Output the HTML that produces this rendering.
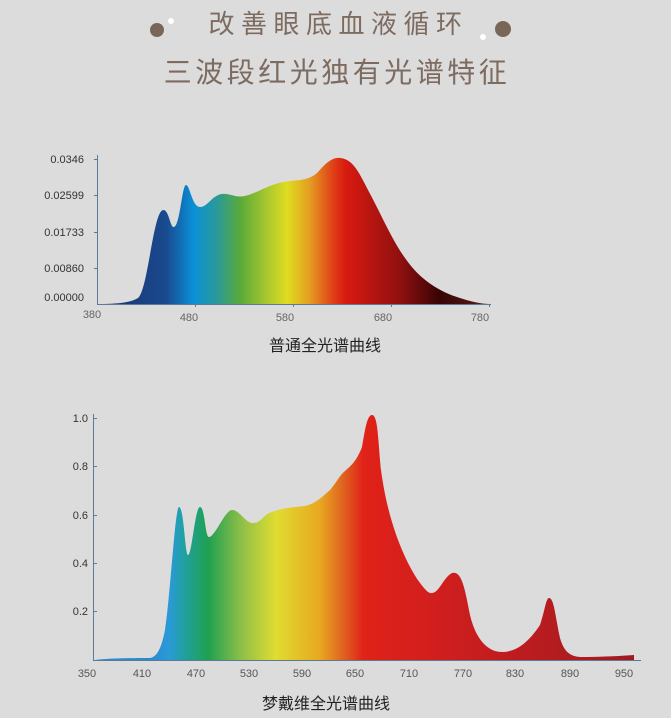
<!DOCTYPE html>
<html><head><meta charset="utf-8"><style>
html,body{margin:0;padding:0;background:#dcdcdc;}
body{width:671px;height:718px;overflow:hidden;position:relative;font-family:"Liberation Sans","Noto Sans CJK SC",sans-serif;}
.t{position:absolute;left:0;width:671px;text-align:center;color:#7d6b60;}
</style></head><body>
<div class="t" style="top:4px;font-size:26px;letter-spacing:6.5px;text-indent:6px;">改善眼底血液循环</div>
<div class="t" style="top:51px;font-size:28px;letter-spacing:3.5px;text-indent:3px;">三波段红光独有光谱特征</div>
<svg width="671" height="718" style="position:absolute;left:0;top:0" font-family="Liberation Sans, sans-serif">
<defs>
<linearGradient id="g1" gradientUnits="userSpaceOnUse" x1="100" x2="490" y1="0" y2="0">
<stop offset="0" stop-color="#1a3070"/>
<stop offset="0.17" stop-color="#1a4a8e"/>
<stop offset="0.24" stop-color="#0a90d8"/>
<stop offset="0.3" stop-color="#2a9a98"/>
<stop offset="0.36" stop-color="#5aaa38"/>
<stop offset="0.42" stop-color="#a0c430"/>
<stop offset="0.48" stop-color="#e0dc20"/>
<stop offset="0.54" stop-color="#e49a20"/>
<stop offset="0.59" stop-color="#e04a18"/>
<stop offset="0.63" stop-color="#d81a10"/>
<stop offset="0.77" stop-color="#901010"/>
<stop offset="0.87" stop-color="#380404"/>
<stop offset="1" stop-color="#5a2020"/>
</linearGradient>
<linearGradient id="g2" gradientUnits="userSpaceOnUse" x1="150" x2="635" y1="0" y2="0">
<stop offset="0" stop-color="#2a8ad0"/>
<stop offset="0.04" stop-color="#2a9ad8"/>
<stop offset="0.07" stop-color="#20a0a0"/>
<stop offset="0.12" stop-color="#20a050"/>
<stop offset="0.19" stop-color="#90c048"/>
<stop offset="0.26" stop-color="#e0dc30"/>
<stop offset="0.35" stop-color="#e8a820"/>
<stop offset="0.40" stop-color="#e06020"/>
<stop offset="0.44" stop-color="#e02218"/>
<stop offset="0.6" stop-color="#d01e1e"/>
<stop offset="1" stop-color="#a01a20"/>
</linearGradient>
</defs>
<circle cx="157" cy="30" r="7" fill="#7a6658"/><circle cx="171" cy="21" r="3" fill="#fff"/>
<circle cx="503" cy="29" r="8" fill="#7a6658"/><circle cx="483" cy="37" r="3" fill="#fff"/>

<!-- chart 1 -->
<path d="M100,304 C115,304 130,303 138,298 C148,290 153,212 163,210 C169,209 170,228 174,227 C180,226 182,185 186,185 C190,185 192,207 200,207 C208,207 212,195 222,194 C230,193 235,198 245,196 C258,193 270,183 290,181 C300,180 310,180 318,172 C325,164 332,157 340,158 C352,159 358,170 368,190 C380,212 392,240 405,258 C420,280 440,292 460,298 C472,302 482,304 490,304 Z" fill="url(#g1)"/>
<g stroke="#5a7a98" stroke-width="1" fill="none">
<path d="M97.5,155 V304.5 H491"/>
<path d="M94,159.5h4M94,195.5h4M94,232.5h4M94,268.5h4M195.5,304v3M293.5,304v3M391.5,304v3M489.5,304v3"/>
</g>
<g font-size="11" fill="#333" text-anchor="end">
<text x="84" y="163">0.0346</text><text x="84" y="199">0.02599</text><text x="84" y="236">0.01733</text><text x="84" y="272">0.00860</text><text x="84" y="301">0.00000</text>
</g>
<g font-size="11" fill="#666" text-anchor="middle">
<text x="92" y="318">380</text><text x="189" y="321">480</text><text x="285" y="321">580</text><text x="383" y="321">680</text><text x="480" y="321">780</text>
</g>
<text x="325" y="351" font-size="16" fill="#222" text-anchor="middle" font-family="Liberation Sans, Noto Sans CJK SC, sans-serif">普通全光谱曲线</text>

<!-- chart 2 -->
<path d="M95,660 C105,659 115,658 150,658 C158,657 162,645 165,630 C170,600 175,507 179,507 C184,507 185,555 188,555 C192,555 195,507 200,507 C205,507 205,537 209,537 C215,537 225,510 232,510 C240,510 245,523 253,523 C262,523 262,515 272,512 C282,508 295,507 305,506 C315,504 322,497 330,490 C336,483 340,475 345,471 C352,465 357,460 362,447 C365,430 367,415 372,415 C378,415 378,440 381,470 C385,500 392,525 400,545 C408,565 418,583 428,592 C438,598 442,578 452,573 C462,570 465,590 470,615 C476,640 488,652 502,652 C518,652 530,640 540,625 C545,610 546,598 549,598 C554,598 555,615 560,638 C564,652 570,656 580,657 C600,657 620,656 634,655 L634,660 Z" fill="url(#g2)"/>
<g stroke="#5a7a98" stroke-width="1" fill="none">
<path d="M93.5,414 V660.5 H641"/>
<path d="M93,418.5h4M93,466.5h4M93,515.5h4M93,563.5h4M93,611.5h4"/>
</g>
<g font-size="11" fill="#333" text-anchor="end">
<text x="88" y="422">1.0</text><text x="88" y="470">0.8</text><text x="88" y="519">0.6</text><text x="88" y="567">0.4</text><text x="88" y="615">0.2</text>
</g>
<g font-size="11" fill="#555" text-anchor="middle">
<text x="87" y="677">350</text><text x="142" y="677">410</text><text x="196" y="677">470</text><text x="249" y="677">530</text><text x="302" y="677">590</text><text x="355" y="677">650</text><text x="409" y="677">710</text><text x="463" y="677">770</text><text x="515" y="677">830</text><text x="570" y="677">890</text><text x="624" y="677">950</text>
</g>
<text x="326" y="709" font-size="16" fill="#222" text-anchor="middle" font-family="Liberation Sans, Noto Sans CJK SC, sans-serif">梦戴维全光谱曲线</text>
</svg>
</body></html>
